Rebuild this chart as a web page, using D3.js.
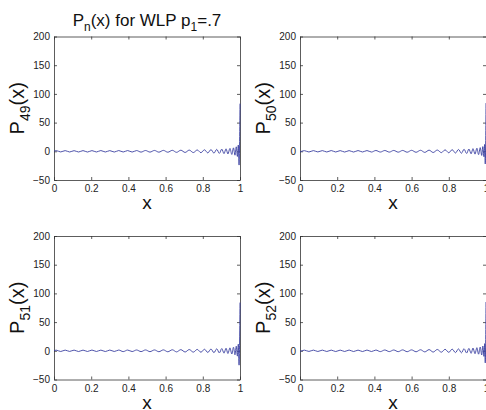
<!DOCTYPE html>
<html>
<head>
<meta charset="utf-8">
<script src="https://cdn.jsdelivr.net/npm/d3@7"></script>
<style>
  html, body { margin: 0; padding: 0; background: #fff; }
  svg { display: block; font-family: "Liberation Sans", Arial, sans-serif; }
</style>
</head>
<body>
<svg id="chart" width="486" height="410"></svg>
<script>
// ---- data (local extrema of each curve) ----
const titleMain = "P";
const xTicks = [0, 0.2, 0.4, 0.6, 0.8, 1];
const yTicks = [-50, 0, 50, 100, 150, 200];
const degrees = [49, 50, 51, 52];

const xOdd = [0, 0.012, 0.036, 0.060, 0.084, 0.108, 0.132, 0.156, 0.180, 0.204,
  0.228, 0.252, 0.276, 0.300, 0.324, 0.348, 0.372, 0.396, 0.420, 0.444,
  0.468, 0.492, 0.516, 0.540, 0.564, 0.588, 0.612, 0.636, 0.659, 0.682,
  0.705, 0.727, 0.749, 0.770, 0.790, 0.809, 0.827, 0.844, 0.860, 0.875,
  0.889, 0.902, 0.914, 0.925,
  0.935, 0.946, 0.956, 0.965, 0.973, 0.980, 0.986, 0.991, 0.995, 1.0];

const xEven = [0, 0.024, 0.048, 0.072, 0.096, 0.120, 0.144, 0.168, 0.192, 0.216,
  0.240, 0.264, 0.288, 0.312, 0.336, 0.360, 0.384, 0.408, 0.432, 0.456,
  0.480, 0.504, 0.528, 0.552, 0.576, 0.600, 0.624, 0.648, 0.671, 0.694,
  0.716, 0.738, 0.760, 0.780, 0.800, 0.818, 0.836, 0.852, 0.868, 0.882,
  0.896, 0.908, 0.920, 0.930,
  0.941, 0.951, 0.960, 0.969, 0.977, 0.983, 0.989, 0.993, 0.996, 1.0];

const p49 = [0, 1.2, -1.1, 1.2, -1.2, 1.1, -1.2, 1.2, -1.3, 1.2,
  -1.2, 1.3, -1.2, 1.2, -1.3, 1.3, -1.2, 1.3, -1.3, 1.3,
  -1.4, 1.4, -1.4, 1.5, -1.5, 1.6, -1.6, 1.7, -1.8, 1.9,
  -2.0, 2.1, -2.2, 2.3, -2.4, 2.6, -2.8, 3.0, -3.2, 3.4,
  -3.6, 3.8, -4.0, 4.3,
  -4.6, 5.0, -5.5, 6.0, -6.8, 7.8, -9.0, 11, -24, 83];

const p50 = [-1.1, 1.1, -1.2, 1.2, -1.1, 1.2, -1.2, 1.3, -1.2, 1.2,
  -1.3, 1.2, -1.3, 1.3, -1.2, 1.3, -1.3, 1.4, -1.3, 1.4,
  -1.4, 1.5, -1.5, 1.5, -1.6, 1.7, -1.7, 1.8, -1.9, 2.0,
  -2.1, 2.2, -2.3, 2.5, -2.6, 2.8, -3.0, 3.2, -3.4, 3.6,
  -3.8, 4.0, -4.3, 4.6,
  -4.9, 5.3, -5.8, 6.4, -7.2, 8.2, -9.5, 12, -22, 84];

const p51 = [0, 1.1, -1.2, 1.2, -1.1, 1.2, -1.3, 1.2, -1.2, 1.3,
  -1.2, 1.2, -1.3, 1.3, -1.2, 1.3, -1.4, 1.3, -1.3, 1.4,
  -1.4, 1.5, -1.5, 1.5, -1.6, 1.6, -1.7, 1.8, -1.9, 2.0,
  -2.1, 2.2, -2.3, 2.4, -2.5, 2.7, -2.9, 3.1, -3.3, 3.5,
  -3.7, 3.9, -4.1, 4.4,
  -4.7, 5.1, -5.6, 6.2, -7.0, 8.0, -9.3, 11.5, -25, 84];

const p52 = [-1.2, 1.1, -1.1, 1.2, -1.2, 1.2, -1.2, 1.2, -1.3, 1.2,
  -1.2, 1.3, -1.3, 1.2, -1.3, 1.3, -1.3, 1.3, -1.4, 1.4,
  -1.4, 1.4, -1.5, 1.6, -1.6, 1.6, -1.7, 1.8, -1.9, 2.1,
  -2.2, 2.3, -2.4, 2.6, -2.7, 2.9, -3.1, 3.3, -3.5, 3.7,
  -3.9, 4.1, -4.4, 4.7,
  -5.0, 5.4, -5.9, 6.5, -7.3, 8.3, -9.7, 12.5, -21, 85];

const seriesY = [p49, p50, p51, p52];
const seriesX = [xOdd, xEven, xOdd, xEven];

// ---- layout ----
const panels = [
  { x0: 54, x1: 240, y0: 36.5, y1: 180 },
  { x0: 300, x1: 486, y0: 36.5, y1: 180 },
  { x0: 54, x1: 240, y0: 236, y1: 379.5 },
  { x0: 300, x1: 486, y0: 236, y1: 379.5 }
];

const svg = d3.select("#chart");
const lineColor = "#3a3fa0";
const axisColor = "#333";

panels.forEach((p, i) => {
  const x = d3.scaleLinear().domain([0, 1]).range([p.x0, p.x1]);
  const y = d3.scaleLinear().domain([-50, 200]).range([p.y1, p.y0]);
  const g = svg.append("g");

  const bx = g.append("g").attr("transform", `translate(0,${p.y1})`)
    .call(d3.axisBottom(x).tickValues(xTicks).tickFormat(d3.format("")).tickSizeInner(-3).tickSizeOuter(0).tickPadding(5));
  const tx = g.append("g").attr("transform", `translate(0,${p.y0})`)
    .call(d3.axisTop(x).tickValues(xTicks).tickFormat("").tickSizeInner(-3).tickSizeOuter(0));
  const ly = g.append("g").attr("transform", `translate(${p.x0},0)`)
    .call(d3.axisLeft(y).tickValues(yTicks).tickSizeInner(-3).tickSizeOuter(0).tickPadding(4));
  const ry = g.append("g").attr("transform", `translate(${p.x1},0)`)
    .call(d3.axisRight(y).tickValues(yTicks).tickFormat("").tickSizeInner(-3).tickSizeOuter(0));

  [bx, tx, ly, ry].forEach(a => {
    a.selectAll("path.domain").attr("stroke", axisColor).attr("stroke-width", 0.8);
    a.selectAll(".tick line").attr("stroke", axisColor).attr("stroke-width", 0.8);
    a.selectAll(".tick text").attr("fill", "#222").attr("font-size", 10)
      .attr("font-family", "'Liberation Sans', Arial, sans-serif");
  });

  const pts = seriesX[i].map((xv, k) => [xv, seriesY[i][k]]);
  const line = d3.line().x(d => x(d[0])).y(d => y(d[1])).curve(d3.curveMonotoneX);
  g.append("path").datum(pts)
    .attr("d", line)
    .attr("fill", "none")
    .attr("stroke", lineColor)
    .attr("stroke-width", 0.9);

  g.append("text")
    .attr("x", (p.x0 + p.x1) / 2)
    .attr("y", p.y1 + 29)
    .attr("text-anchor", "middle")
    .attr("font-size", 19)
    .attr("fill", "#111")
    .text("x");

  const yl = g.append("text")
    .attr("transform", `translate(${p.x0 - 30},${(p.y0 + p.y1) / 2}) rotate(-90)`)
    .attr("text-anchor", "middle")
    .attr("font-size", 20)
    .attr("fill", "#111");
  yl.append("tspan").text("P");
  yl.append("tspan").attr("font-size", 14).attr("dy", 6).text(degrees[i]);
  yl.append("tspan").attr("dy", -6).text("(x)");
});

const t = svg.append("text")
  .attr("x", 147)
  .attr("y", 26)
  .attr("text-anchor", "middle")
  .attr("font-size", 17)
  .attr("fill", "#111");
t.append("tspan").text(titleMain);
t.append("tspan").attr("font-size", 12).attr("dy", 5).text("n");
t.append("tspan").attr("dy", -5).text("(x) for WLP p");
t.append("tspan").attr("font-size", 12).attr("dy", 5).text("1");
t.append("tspan").attr("dy", -5).text("=.7");
</script>
</body>
</html>
